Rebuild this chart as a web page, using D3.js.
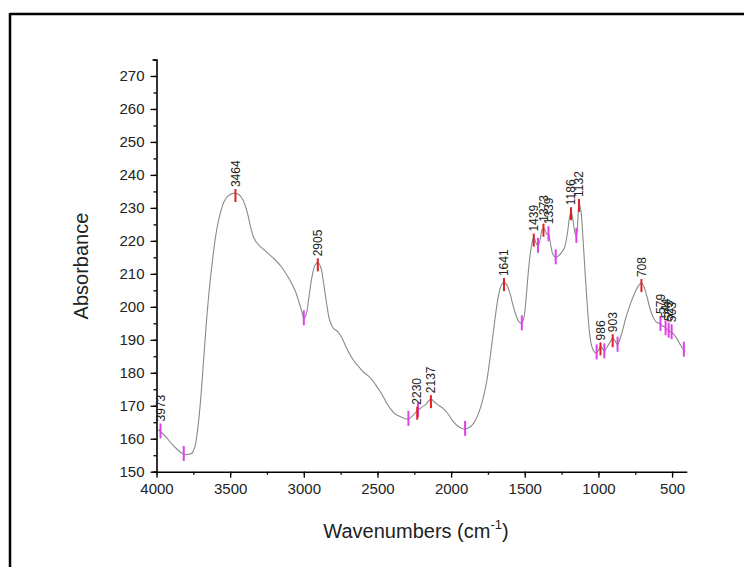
<!DOCTYPE html>
<html>
<head>
<meta charset="utf-8">
<script src="https://cdn.jsdelivr.net/npm/d3@7"></script>
<style>
  body { margin: 0; background: #fff; }
  svg { display: block; font-family: "Liberation Sans", Arial, sans-serif; }
</style>
</head>
<body>
<svg id="chart" width="744" height="567"></svg>
<script>
// spectrum: [wavenumber, absorbance]
var spectrum = [
  [3990,162.8],[3973,162.2],[3940,160.8],[3900,158.6],[3860,156.8],[3820,155.4],[3790,155.2],[3760,155.6],
  [3740,157.5],[3720,163],[3700,172],[3680,184],[3660,196],[3640,206],[3620,214],[3600,221],[3580,226],
  [3560,229.5],[3540,232],[3510,233.8],[3480,234.4],[3464,234.5],[3440,234],[3420,233],[3400,231],
  [3380,228],[3360,224],[3340,221],[3320,219.5],[3300,218.5],[3250,216.5],[3200,214.5],[3150,212],
  [3100,208.5],[3060,205],[3030,201],[3010,198],[3000,196.5],[2985,197.5],[2965,203],[2945,209],
  [2925,212.5],[2905,213.5],[2885,212],[2865,207],[2845,201],[2825,196],[2800,193.5],[2770,192.5],
  [2740,190.5],[2710,187.5],[2680,185],[2650,183],[2620,181.5],[2590,180],[2560,179],[2530,177.5],
  [2500,175.5],[2470,173.5],[2440,171],[2410,169],[2380,167.5],[2350,166.8],[2320,166.2],[2290,166],
  [2260,167],[2230,168.5],[2200,169.5],[2170,170.5],[2137,172],[2110,171],[2080,170],[2050,169],
  [2020,167.5],[1990,165.5],[1960,164],[1930,163.2],[1905,163],[1880,163.3],[1850,164.5],[1820,167],
  [1790,171],[1760,177],[1740,183],[1720,190],[1700,197],[1680,203],[1660,206.5],[1641,207.5],
  [1620,206.5],[1600,204],[1580,200.5],[1560,197.5],[1540,195.5],[1520,195],[1505,197],[1490,203],
  [1475,211],[1460,217],[1450,219.5],[1439,221],[1425,219.5],[1410,218.5],[1395,220.5],[1385,223],
  [1373,224],[1360,223],[1350,222],[1339,222],[1325,219],[1310,216],[1290,215],[1270,215.5],
  [1250,216.5],[1230,218],[1210,222.5],[1195,227.5],[1186,229],[1175,227],[1160,222.5],[1150,221.5],
  [1140,226],[1132,231.5],[1120,229.5],[1105,221],[1090,210],[1075,200],[1060,192],[1045,188],
  [1030,186.5],[1015,186],[1000,186.8],[986,188],[975,187.5],[960,186.5],[945,187.5],[925,189],
  [903,190.5],[885,189.5],[870,188.5],[855,190],[835,193],[815,196.5],[790,200],[765,203],[740,205.5],
  [720,206.8],[708,207.2],[690,206],[670,203],[650,199.5],[630,197],[610,195.5],[590,195],[579,194.8],
  [565,194.2],[550,193.8],[540,193.3],[530,193],[515,192.5],[503,192.3],[490,191.8],[470,190.5],
  [450,189],[430,187.5],[410,186.5]
];

// labelled peaks: wavenumber, marker colour
var peakLabels = [3973, 3464, 2905, 2230, 2137, 1641, 1439, 1373, 1339, 1186, 1132, 986, 903, 708, 579, 544, 523, 503];
var peakColors = ["m", "r", "r", "r", "r", "r", "r", "r", "m", "r", "r", "r", "r", "r", "m", "m", "m", "m"];
// unlabelled valley markers
var valleyMarks = [3815, 3000, 2290, 2225, 1905, 1520, 1410, 1290, 1150, 1012, 960, 870, 420];

var xTicks = [4000, 3500, 3000, 2500, 2000, 1500, 1000, 500];
var yTicks = [150, 160, 170, 180, 190, 200, 210, 220, 230, 240, 250, 260, 270];

var svg = d3.select("#chart");

// outer frame (top and left edges only, as cropped)
svg.append("line").attr("x1", 10).attr("y1", 14).attr("x2", 744).attr("y2", 14)
  .attr("stroke", "#000").attr("stroke-width", 2.5);
svg.append("line").attr("x1", 10).attr("y1", 13).attr("x2", 10).attr("y2", 567)
  .attr("stroke", "#000").attr("stroke-width", 2.5);

var x = d3.scaleLinear().domain([4000, 400]).range([156.5, 686.8]);
var y = d3.scaleLinear().domain([150, 275]).range([471.7, 59.5]);

var minorX = d3.range(4000, 399, -250);
var minorY = d3.range(150, 276, 5);

svg.append("g")
  .attr("transform", "translate(0,471.7)")
  .call(d3.axisBottom(x).tickValues(minorX).tickSize(3).tickSizeOuter(0).tickFormat(""))
  .call(g => g.select(".domain").remove());
svg.append("g")
  .attr("transform", "translate(156.5,0)")
  .call(d3.axisLeft(y).tickValues(minorY).tickSize(3).tickSizeOuter(0).tickFormat(""))
  .call(g => g.select(".domain").remove());

var xAxis = svg.append("g")
  .attr("transform", "translate(0,471.7)")
  .call(d3.axisBottom(x).tickValues(xTicks).tickSize(6).tickSizeOuter(0).tickPadding(6).tickFormat(d3.format("d")));
var yAxis = svg.append("g")
  .attr("transform", "translate(156.5,0)")
  .call(d3.axisLeft(y).tickValues(yTicks).tickSize(6).tickSizeOuter(4).tickPadding(6).tickFormat(d3.format("d")));

svg.selectAll(".tick line").attr("stroke", "#000").attr("stroke-width", 1.3);
svg.selectAll(".domain").attr("stroke", "#000").attr("stroke-width", 1.6);
xAxis.selectAll("text").attr("font-size", 15).attr("fill", "#222").attr("font-family", "Liberation Sans, Arial");
yAxis.selectAll("text").attr("font-size", 15).attr("fill", "#222").attr("font-family", "Liberation Sans, Arial");

// the spectrum
var line = d3.line()
  .x(function (d) { return x(d[0]); })
  .y(function (d) { return y(d[1]); })
  .curve(d3.curveCatmullRom);

svg.append("path")
  .datum(spectrum)
  .attr("fill", "none")
  .attr("stroke", "#8a8a8a")
  .attr("stroke-width", 1.1)
  .attr("d", line);

var valueAt = d3.scaleLinear()
  .domain(spectrum.map(function (d) { return d[0]; }))
  .range(spectrum.map(function (d) { return d[1]; }));

// valley marks
svg.selectAll(".valley")
  .data(valleyMarks)
  .enter().append("line")
  .attr("x1", function (d) { return x(d); })
  .attr("x2", function (d) { return x(d); })
  .attr("y1", function (d) { return y(valueAt(d)) - 8; })
  .attr("y2", function (d) { return y(valueAt(d)) + 7; })
  .attr("stroke", "#e040e8")
  .attr("stroke-width", 2);

// peak marks and labels
var peaks = peakLabels.map(function (v, i) { return { w: v, c: peakColors[i] }; });

svg.selectAll(".peak")
  .data(peaks)
  .enter().append("line")
  .attr("x1", function (d) { return x(d.w); })
  .attr("x2", function (d) { return x(d.w); })
  .attr("y1", function (d) { return y(valueAt(d.w)) - (d.c == "r" ? 4 : 8); })
  .attr("y2", function (d) { return y(valueAt(d.w)) + (d.c == "r" ? 9 : 7); })
  .attr("stroke", function (d) { return d.c == "r" ? "#e02020" : "#e040e8"; })
  .attr("stroke-width", 2);

svg.selectAll(".plabel")
  .data(peaks)
  .enter().append("text")
  .attr("transform", function (d) {
    var top = y(valueAt(d.w)) - (d.c == "r" ? 4 : 8) - 2;
    return "translate(" + x(d.w) + "," + top + ") rotate(-90)";
  })
  .attr("dy", "0.35em")
  .attr("font-size", 12)
  .attr("fill", "#222")
  .text(function (d) { return d.w; });

// axis titles
svg.append("text")
  .attr("transform", "translate(88,266) rotate(-90)")
  .attr("text-anchor", "middle")
  .attr("font-size", 20)
  .attr("fill", "#222")
  .text("Absorbance");

var xt = svg.append("text")
  .attr("x", 416).attr("y", 538)
  .attr("text-anchor", "middle")
  .attr("font-size", 20)
  .attr("fill", "#222");
xt.append("tspan").text("Wavenumbers (cm");
xt.append("tspan").attr("font-size", 13).attr("dy", -9).text("-1");
xt.append("tspan").attr("dy", 9).text(")");
</script>
</body>
</html>
